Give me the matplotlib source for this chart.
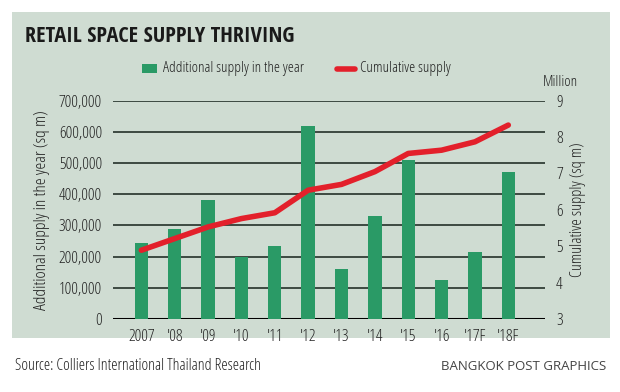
import matplotlib
matplotlib.use("Agg")
import matplotlib.pyplot as plt
from matplotlib.lines import Line2D

years = ["2007", "'08", "'09", "'10", "'11", "'12", "'13", "'14", "'15", "'16", "'17F", "'18F"]
additional = [245000, 290000, 380000, 200000, 235000, 620000, 160000, 330000, 510000, 125000, 215000, 470000]
cumulative = [4.89, 5.21, 5.53, 5.76, 5.92, 6.54, 6.70, 7.05, 7.55, 7.64, 7.87, 8.33]
left_ticks = [0, 100000, 200000, 300000, 400000, 500000, 600000, 700000]
right_ticks = [3, 4, 5, 6, 7, 8, 9]

plt.rcParams['font.family'] = ["Open Sans", "DejaVu Sans"]
plt.rcParams['font.stretch'] = 'condensed'
plt.rcParams['font.weight'] = 300

BG = "#cfdcd2"
GREEN = "#2a9a66"
RED = "#e3202b"
GRID = "#3d4a42"
TXT = "#222222"

fig = plt.figure(figsize=(6.2, 3.92), dpi=100)
fig.patch.set_facecolor("white")

bg = fig.add_axes([12/620, 1-338/392, 598/620, 326/392], zorder=-10)
bg.set_facecolor(BG)
bg.set_xticks([]); bg.set_yticks([])
for s in bg.spines.values():
    s.set_visible(False)

ax = fig.add_axes([113/620, 1-319/392, 432/620, 218.3/392], zorder=1)
ax.set_facecolor("none")
x = list(range(len(years)))
ax.set_xlim(-0.85, 12.1)
ax.set_ylim(0, 700000)
for t in left_ticks:
    ax.axhline(t, color=("black" if t == 0 else GRID), lw=(2.2 if t == 0 else 1.4), zorder=1)
ax.bar(x, additional, width=0.4, color=GREEN, zorder=2)
ax.set_yticks(left_ticks)
ax.set_yticklabels([f"{t:,}" for t in left_ticks])
ax.set_xticks(x)
ax.set_xticklabels(years)
ax.tick_params(axis='both', length=0, labelsize=12, colors=TXT)
ax.tick_params(axis='y', pad=8)
ax.tick_params(axis='x', pad=7)
for s in ax.spines.values():
    s.set_visible(False)
ax.set_ylabel("Additional supply in the year (sq m)", fontsize=12.5, color=TXT, labelpad=6)

ax2 = ax.twinx()
ax2.set_ylim(3, 9)
ax2.plot(x, cumulative, color=RED, lw=4, solid_capstyle='round', zorder=3)
ax2.set_yticks(right_ticks)
ax2.tick_params(axis='y', length=0, labelsize=12, colors=TXT, pad=8)
for s in ax2.spines.values():
    s.set_visible(False)
ax2.set_ylabel("Cumulative supply (sq m)", fontsize=11.8, color=TXT, labelpad=5)

fig.text(25/620, 1-36/392, "RETAIL SPACE SUPPLY THRIVING", fontsize=16, family="Open Sans Condensed",
         fontweight='bold', color="#1a1a1a", va='center', ha='left')
fig.patches.append(plt.Rectangle((142/620, 1-73/392), 15/620, 9/392, transform=fig.transFigure,
                                 facecolor=GREEN, edgecolor='none'))
fig.text(163/620, 1-68/392, "Additional supply in the year", fontsize=11, color=TXT, va='center')
fig.lines.append(Line2D([337/620, 355/620], [1-69/392, 1-69/392], transform=fig.transFigure,
                        color=RED, lw=4, solid_capstyle='round'))
fig.text(360/620, 1-68/392, "Cumulative supply", fontsize=11, color=TXT, va='center')
fig.text(543/620, 1-83/392, "Million", fontsize=11, color=TXT, va='center')

fig.text(15/620, 1-366/392, "Source: Colliers International Thailand Research", fontsize=11.5,
         color=TXT, va='center')
fig.text(606/620, 1-366/392, "BANGKOK POST GRAPHICS", fontsize=9.5, color="#444444",
         va='center', ha='right', fontstretch='normal', fontweight='normal')

fig.savefig("out.png", dpi=100, facecolor="white")
